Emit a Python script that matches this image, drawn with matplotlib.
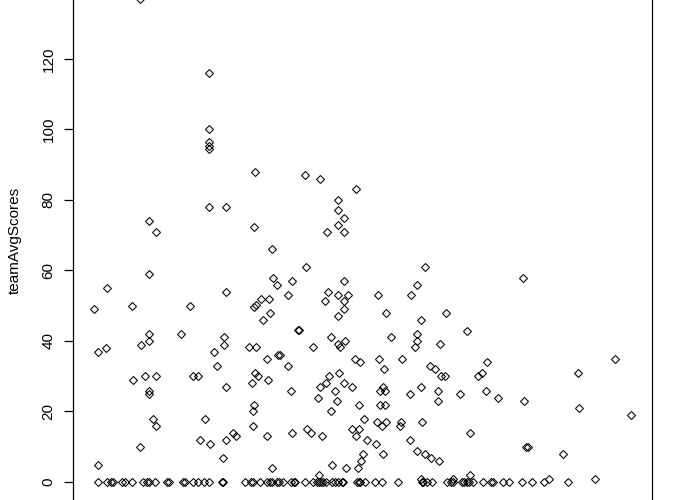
import numpy as np
import matplotlib
matplotlib.use("Agg")
import matplotlib.pyplot as plt

plt.rcParams['font.family'] = ['Liberation Sans', 'DejaVu Sans']

# points above zero (x in plot units, teamAvgScores)
pts_x = [94.5, 97.7, 97.7, 106, 107, 131.7, 133.3, 140, 140, 141, 145, 148.7, 148.7,
         149, 149, 149, 149, 152.7, 155.7, 155.7, 155.7, 181, 190, 192.7, 198.3, 200,
         205, 209, 209, 209, 209, 209, 209, 209.7, 214, 217, 222.7, 224, 224, 225.7,
         225.7, 226, 226, 232.7, 236,
         248.7, 253.7, 253.7, 256, 255, 256, 261, 262.7, 268.7, 270, 271.7, 272.7, 277,
         287.7, 292, 297.5, 298.5, 305, 306, 313, 319.7, 325, 326.7, 327.7, 330.7,
         337.7, 337.7, 337.7, 337.7, 337.7, 337.7, 340, 344, 344, 344, 344, 344, 345,
         348, 355.7, 377.7, 385.7, 391, 410.7, 415, 417, 417, 417, 420.7, 425, 439.7,
         445.7, 466.7,
         267, 278.3, 280, 288, 254.7, 257.7, 251.7, 267.7, 290.7, 253.7, 253, 252.7,
         267, 291.7, 271.7, 354.7, 359.7, 379, 401.7, 383.7, 329, 338.7, 325.7, 344,
         319.7, 351.7, 335, 317.7, 336.7, 331, 358.7, 382.7, 380.3, 385, 380.3, 385,
         410, 420.7, 430, 434.7, 440.7, 445, 438, 438, 459.7, 363.7, 307, 310.7, 321.7,
         351.7, 358.7, 355.7, 366.7, 375.7, 377, 382, 385.7, 401, 399.7, 422, 410, 417,
         425, 430.7, 438.7, 469.5, 382.7, 363, 360.7, 357.7, 345.7, 332, 318.7, 420.7,
         452.7, 469.5,
         487, 478, 482, 485.7, 497.7, 523.7, 522.7, 526, 527.5, 562.7, 577.7, 578.7,
         614.7, 630.3, 548.7, 594.7]
pts_y = [49.2, 37, 4.9, 38.1, 55.1, 50, 28.9, 10, 137, 38.9, 30.2, 74.1, 59.1,
         42, 40, 25.8, 25, 17.9, 71, 30.2, 15.9, 42, 50, 30.2, 30.2, 12,
         17.9, 116.1, 100.1, 96.5, 95.4, 94.4, 78.1, 10.9, 37, 33, 6.9, 41, 38.9, 78.1,
         54, 27, 12, 14, 13,
         38.2, 72.2, 49.7, 50.3, 88, 38.2, 52, 46, 52, 48, 66.2, 58, 56,
         53.1, 57.1, 43, 43, 87.2, 61.1, 38.2, 86, 51.2, 71, 54, 41,
         80.1, 77.2, 73, 53.1, 47.2, 39, 38.4, 75, 71, 57.1, 51.2, 49.2, 40.1,
         53.1, 83.2, 53.1, 48, 41, 53.1, 38.2, 56, 42.1, 40.1, 46, 61.1, 39,
         48, 42.9,
         35, 36.1, 36.1, 33, 31, 30.2, 28.2, 29, 25.9, 21.9, 20, 16,
         13.1, 14, 4.1, 35, 34.1, 35, 35, 32.1, 30.2, 31, 28.2, 28.2,
         27, 27, 25.9, 23.9, 23.1, 20, 21.9, 27, 25.9, 25.9, 21.9, 21.9,
         25, 27, 33, 32.1, 30.2, 30.2, 25.9, 23.1, 25, 18, 15.1, 14, 13.1,
         15.1, 15.1, 13.1, 12, 10.9, 17.1, 16, 17.1, 17.1, 16, 17.1, 12, 8.9,
         8, 6.9, 6, 14, 8, 8, 6, 4.1, 4.1, 4.9, 2.1, 0.9,
         0.9, 2.1,
         34.1, 30.2, 31, 25.9, 23.9, 23.1, 58, 10, 10, 8, 31, 21.1,
         35, 19.1, 0.9, 0.9]

# the row of zero scores along the bottom
zero_x = [97.7, 107.5, 111, 113, 121.7, 125, 131.7, 143.5, 147.5, 149, 154.7, 167,
          169.5, 183.5, 185, 193, 198.3, 203.5, 208.7, 221.5, 223, 245, 250.5, 252.5,
          260, 266.7, 270, 271.7, 276.5, 278.5, 282.5, 290.7, 293.5, 295, 305, 313.3,
          316.7, 319.3, 321, 322.7, 326, 332, 335, 338.3, 341.5, 343.3, 356.7, 358.5,
          360, 365, 375, 382, 398, 421.7, 423.3, 426.7, 432, 447, 450.5, 452.7, 461.5,
          463.5, 466.5, 468.5, 473.3, 482.7, 490.7, 492.7, 503.3, 508.7, 521.7, 531.7,
          543.3, 567.5]
zero_y = [0] * len(zero_x)

x = np.array(pts_x + zero_x)
y = np.array(pts_y + zero_y)


def r_lim(v):
    # R's default 4% padding on each side
    lo, hi = v.min(), v.max()
    d = (hi - lo) * 0.04
    return lo - d, hi + d


W, H = 689, 500
fig = plt.figure(figsize=(W / 100, H / 100), dpi=100)
# plot region runs a bit past the top and bottom of the picture
ax = fig.add_axes([73 / W, (H - 501.3) / H, (652 - 73) / W, 521.6 / H])

ax.plot(x, y, linestyle='none', marker='D', markersize=3.7,
        markerfacecolor='none', markeredgecolor='black', markeredgewidth=0.75)

ax.set_xlim(*r_lim(x))
ax.set_ylim(*r_lim(y))
ax.set_xticks([])
ax.set_yticks([0, 20, 40, 60, 80, 100, 120])
ax.tick_params(axis='y', length=6.5, width=0.9, pad=6, labelsize=11,
               labelrotation=90)
for lab in ax.get_yticklabels():
    lab.set_va('center')
for sp in ax.spines.values():
    sp.set_linewidth(0.9)

fig.text(15 / W, 1 - 240 / H, 'teamAvgScores', rotation=90, ha='center',
         va='center', fontsize=11)

fig.savefig('out.png', dpi=100)
